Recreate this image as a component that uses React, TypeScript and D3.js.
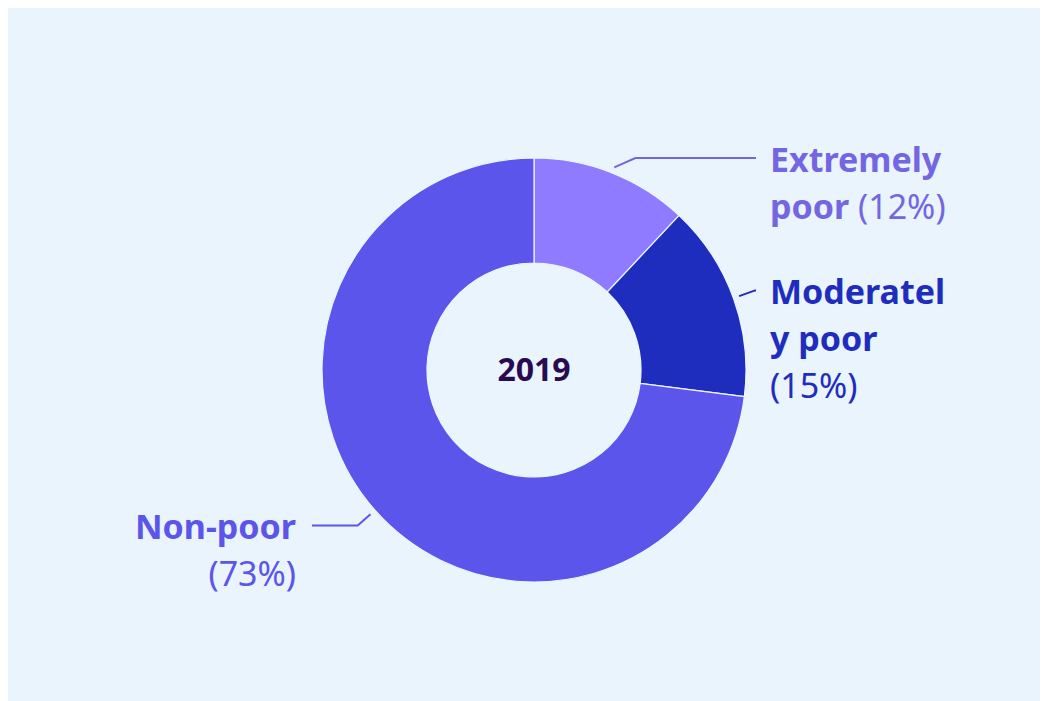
import React, { useEffect, useRef } from "react";
import * as d3 from "d3";

const categories = ["Extremely poor", "Moderately poor", "Non-poor"];
const values = [12, 15, 73];
const sliceColors = ["#8F7BFF", "#1F2DBE", "#5C55EB"];
const labelColors = ["#7466E2", "#1F2DBE", "#5C55EB"];
const centerLabel = "2019";

const W = 1040;
const H = 693;
const BG = "#E9F4FD";
const FONT = "'Noto Sans', sans-serif";
const FS = 34;
const CENTER_FS = 32;
const LINE_H = 47;
const MAX_W = 186;

type Seg = { text: string; weight: number };

function measure(ctx: CanvasRenderingContext2D, t: string, w: number) {
  ctx.font = `${w} ${FS}px 'Noto Sans'`;
  return ctx.measureText(t).width;
}

function wrap(ctx: CanvasRenderingContext2D, tokens: Seg[], maxW: number): Seg[][] {
  const lines: Seg[][] = [];
  let cur: Seg[] = [];
  let curW = 0;
  const push = (s: Seg, w: number) => {
    const last = cur[cur.length - 1];
    if (last && last.weight === s.weight) last.text += s.text;
    else cur.push({ ...s });
    curW += w;
  };
  tokens.forEach((tok) => {
    const lead = cur.length ? " " : "";
    const w = measure(ctx, lead + tok.text, tok.weight);
    if (curW + w <= maxW) {
      push({ text: lead + tok.text, weight: tok.weight }, w);
      return;
    }
    if (cur.length) {
      lines.push(cur);
      cur = [];
      curW = 0;
    }
    const w2 = measure(ctx, tok.text, tok.weight);
    if (w2 <= maxW) {
      push({ text: tok.text, weight: tok.weight }, w2);
      return;
    }
    let chunk = "";
    for (const ch of tok.text) {
      if (measure(ctx, chunk + ch, tok.weight) > maxW && chunk) {
        push({ text: chunk, weight: tok.weight }, measure(ctx, chunk, tok.weight));
        lines.push(cur);
        cur = [];
        curW = 0;
        chunk = ch;
      } else chunk += ch;
    }
    if (chunk) push({ text: chunk, weight: tok.weight }, measure(ctx, chunk, tok.weight));
  });
  if (cur.length) lines.push(cur);
  return lines;
}

export default function App() {
  const ref = useRef<SVGSVGElement>(null);
  useEffect(() => {
    const svg = d3.select(ref.current);
    svg.selectAll("*").remove();
    svg.append("rect").attr("width", W).attr("height", H).attr("fill", BG);

    const cx = 526, cy = 362;
    const outerR = 212, innerR = 107;
    const g = svg.append("g").attr("transform", `translate(${cx},${cy})`);

    const data = categories.map((c, i) => ({ name: c, value: values[i], i }));
    const pie = d3.pie<any>().sort(null).value((d) => d.value);
    const arcs = pie(data);
    const arc = d3.arc<any>().innerRadius(innerR).outerRadius(outerR);

    g.selectAll("path.slice")
      .data(arcs)
      .join("path")
      .attr("class", "slice")
      .attr("d", arc)
      .attr("fill", (d: any) => sliceColors[d.data.i])
      .attr("stroke", "#EEF6FF")
      .attr("stroke-width", 1.2);

    g.append("text")
      .attr("text-anchor", "middle")
      .attr("dy", "0.35em")
      .attr("font-family", FONT)
      .attr("font-weight", 700)
      .attr("font-size", CENTER_FS)
      .attr("fill", "#2A0B52")
      .text(centerLabel);

    const canvas = document.createElement("canvas");
    const ctx = canvas.getContext("2d")!;
    const r0 = outerR + 6, r1 = outerR + 23, hx = outerR + 10;

    arcs.forEach((a: any) => {
      const mid = (a.startAngle + a.endAngle) / 2;
      const sx = Math.sin(mid), sy = -Math.cos(mid);
      const right = sx >= 0;
      const p0 = [r0 * sx, r0 * sy];
      // elbow lies on circle r1, at label y clamped to the donut's vertical extent
      const ly = Math.max(-outerR, Math.min(outerR, r1 * sy));
      const ex = Math.sqrt(Math.max(0, r1 * r1 - ly * ly)) * (right ? 1 : -1);
      const p1 = [ex, ly];
      const p2 = [right ? hx : -hx, ly];
      const col = labelColors[a.data.i];
      g.append("polyline")
        .attr("points", [p0, p1, p2].map((p) => p.join(",")).join(" "))
        .attr("fill", "none")
        .attr("stroke", col)
        .attr("stroke-width", 2);

      const tokens: Seg[] = a.data.name
        .split(" ")
        .map((t: string) => ({ text: t, weight: 700 }));
      tokens.push({ text: `(${a.data.value}%)`, weight: 400 });
      const lines = wrap(ctx, tokens, MAX_W);
      const tx = right ? hx + 14 : -hx - 16;
      lines.forEach((ln, li) => {
        const t = g
          .append("text")
          .attr("x", tx)
          .attr("y", ly + 14 + li * LINE_H)
          .attr("text-anchor", right ? "start" : "end")
          .attr("font-family", FONT)
          .attr("font-size", FS)
          .attr("fill", col);
        ln.forEach((s) => {
          t.append("tspan").attr("font-weight", s.weight).attr("xml:space", "preserve").text(s.text);
        });
      });
    });
  }, []);
  return <svg ref={ref} width={W} height={H} style={{ display: "block" }} />;
}
